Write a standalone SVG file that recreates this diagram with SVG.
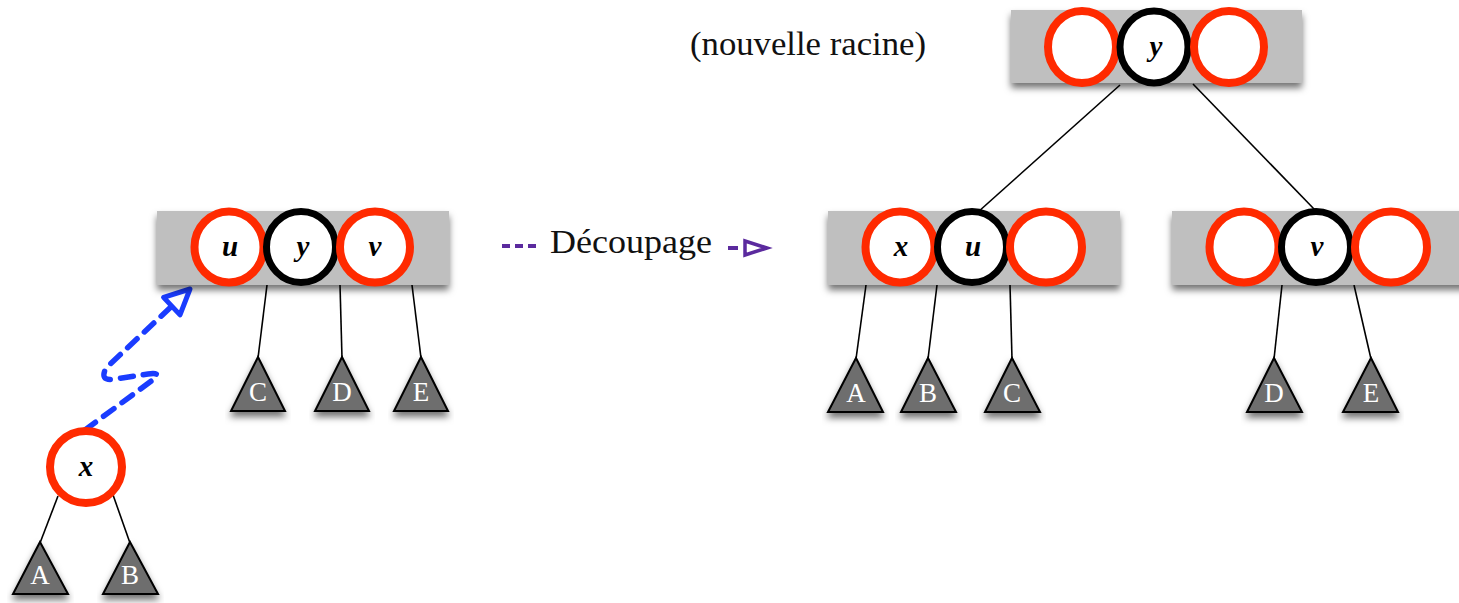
<svg xmlns="http://www.w3.org/2000/svg" width="1459" height="603" viewBox="0 0 1459 603">
  <defs>
    <filter id="shadow" x="-10%" y="-20%" width="120%" height="160%">
      <feDropShadow dx="0" dy="5" stdDeviation="3.5" flood-color="#000" flood-opacity="0.55"/>
    </filter>
    <marker id="blueHead" markerUnits="userSpaceOnUse" markerWidth="40" markerHeight="40" viewBox="-30 -15 40 30" refX="0" refY="0" orient="auto">
      <path d="M-25,-12 L0,0 L-25,12 Z" fill="#fff" stroke="#1a3cff" stroke-width="5" stroke-linejoin="round"/>
    </marker>
    <marker id="purpleHead" markerUnits="userSpaceOnUse" markerWidth="34" markerHeight="24" viewBox="-26 -12 34 24" refX="0" refY="0" orient="auto">
      <path d="M-22,-7 L0,0 L-22,7 Z" fill="#fff" stroke="#5b2a9e" stroke-width="3.5" stroke-linejoin="miter"/>
    </marker>
  </defs>
  <style>
    .box { fill: #bfbfbf; filter: url(#shadow); }
    .red { fill: #fff; stroke: #ff2a00; stroke-width: 8; }
    .black { fill: #fff; stroke: #000; stroke-width: 7; }
    .key { font-family: "Liberation Serif", "DejaVu Serif", serif; font-weight: bold; font-style: italic; font-size: 29px; text-anchor: middle; fill: #000; }
    .tri { fill: #6e6e6e; stroke: #000; stroke-width: 2; stroke-linejoin: miter; filter: url(#shadow); }
    .sub { font-family: "Liberation Serif", "DejaVu Serif", serif; font-size: 27px; text-anchor: middle; fill: #fff; }
    .edge { stroke: #000; stroke-width: 1.6; fill: none; }
    .label { font-family: "Liberation Serif", "DejaVu Serif", serif; font-size: 33px; fill: #111; }
  </style>

  <rect width="1459" height="603" fill="#fff"/>

  <!-- edges between nodes and to subtrees -->
  <g id="connectors">
    <line class="edge" x1="1120" y1="85" x2="978" y2="212"/>
    <line class="edge" x1="1193" y1="84" x2="1315" y2="210"/>
    <line class="edge" x1="267" y1="285" x2="258" y2="358"/>
    <line class="edge" x1="340" y1="285" x2="342" y2="358"/>
    <line class="edge" x1="412" y1="285" x2="421" y2="358"/>
    <line class="edge" x1="58" y1="496" x2="40" y2="543"/>
    <line class="edge" x1="112" y1="492" x2="130" y2="543"/>
    <line class="edge" x1="866" y1="285" x2="856" y2="359"/>
    <line class="edge" x1="937" y1="285" x2="928" y2="359"/>
    <line class="edge" x1="1010" y1="285" x2="1012" y2="359"/>
    <line class="edge" x1="1282" y1="285" x2="1274" y2="359"/>
    <line class="edge" x1="1354" y1="285" x2="1371" y2="359"/>
    <!-- insertion path of x into the full node -->
    <path d="M85,430 L154,379 Q162,372 148,374 L115,379 Q99,382 106,368 L190,289" fill="none" stroke="#1a3cff" stroke-width="5.5" stroke-linecap="round" stroke-dasharray="13 10" marker-end="url(#blueHead)"/>
  </g>

  <!-- new root -->
  <g id="root">
    <rect class="box" x="1011" y="10" width="291" height="73"/>
    <ellipse class="red" cx="1082" cy="47" rx="34" ry="36"/>
    <ellipse class="black" cx="1154" cy="47" rx="34" ry="36"/>
    <ellipse class="red" cx="1229" cy="47" rx="35" ry="36"/>
    <text class="key" x="1156" y="56">y</text>
  </g>
  <text id="root-label" class="label" x="690" y="55" textLength="236" lengthAdjust="spacingAndGlyphs">(nouvelle racine)</text>

  <!-- full node before split -->
  <g id="full-node">
    <rect class="box" x="157" y="211" width="292" height="74"/>
    <ellipse class="red" cx="229" cy="247" rx="34.5" ry="35.5"/>
    <ellipse class="black" cx="301" cy="247" rx="34.5" ry="35.5"/>
    <ellipse class="red" cx="375" cy="247" rx="35" ry="35.5"/>
    <text class="key" x="230" y="256">u</text>
    <text class="key" x="303" y="256">y</text>
    <text class="key" x="375" y="256">v</text>
  </g>

  <!-- node being inserted -->
  <g id="node-x">
    <ellipse class="red" cx="86" cy="467" rx="36" ry="36"/>
    <text class="key" x="86" y="476">x</text>
  </g>

  <!-- left half after split -->
  <g id="left-node">
    <rect class="box" x="828" y="211" width="292" height="74"/>
    <ellipse class="red" cx="900" cy="247" rx="34.5" ry="35.5"/>
    <ellipse class="black" cx="972" cy="247" rx="34.5" ry="35.5"/>
    <ellipse class="red" cx="1046" cy="247" rx="36" ry="35.5"/>
    <text class="key" x="901" y="256">x</text>
    <text class="key" x="973" y="256">u</text>
  </g>

  <!-- right half after split -->
  <g id="right-node">
    <rect class="box" x="1172" y="211" width="300" height="74"/>
    <ellipse class="red" cx="1244" cy="247" rx="34.5" ry="35.5"/>
    <ellipse class="black" cx="1316" cy="247" rx="34.5" ry="35.5"/>
    <ellipse class="red" cx="1391" cy="247" rx="36" ry="35.5"/>
    <text class="key" x="1317" y="256">v</text>
  </g>

  <!-- subtrees -->
  <g id="sub-C1"><polygon class="tri" points="258,357 285,411 231,411"/><text class="sub" x="258" y="401">C</text></g>
  <g id="sub-D1"><polygon class="tri" points="342,357 369,411 315,411"/><text class="sub" x="342" y="401">D</text></g>
  <g id="sub-E1"><polygon class="tri" points="421,357 448,411 394,411"/><text class="sub" x="421" y="401">E</text></g>
  <g id="sub-A1"><polygon class="tri" points="40,542 68,594 13,594"/><text class="sub" x="40" y="584">A</text></g>
  <g id="sub-B1"><polygon class="tri" points="130,542 158,594 103,594"/><text class="sub" x="130" y="584">B</text></g>
  <g id="sub-A2"><polygon class="tri" points="856,358 883,412 828,412"/><text class="sub" x="856" y="402">A</text></g>
  <g id="sub-B2"><polygon class="tri" points="928,358 956,412 901,412"/><text class="sub" x="928" y="402">B</text></g>
  <g id="sub-C2"><polygon class="tri" points="1012,358 1040,412 985,412"/><text class="sub" x="1012" y="402">C</text></g>
  <g id="sub-D2"><polygon class="tri" points="1274,358 1302,412 1247,412"/><text class="sub" x="1274" y="402">D</text></g>
  <g id="sub-E2"><polygon class="tri" points="1371,358 1398,412 1343,412"/><text class="sub" x="1371" y="402">E</text></g>

  <!-- split operation label -->
  <g id="split-label">
    <line x1="502" y1="246" x2="540" y2="246" stroke="#5b2a9e" stroke-width="4" stroke-dasharray="8 5"/>
    <text class="label" x="550" y="253" textLength="162" lengthAdjust="spacingAndGlyphs">Découpage</text>
    <line x1="728" y1="248" x2="767" y2="248" stroke="#5b2a9e" stroke-width="4" stroke-dasharray="10 8" marker-end="url(#purpleHead)"/>
  </g>
</svg>
